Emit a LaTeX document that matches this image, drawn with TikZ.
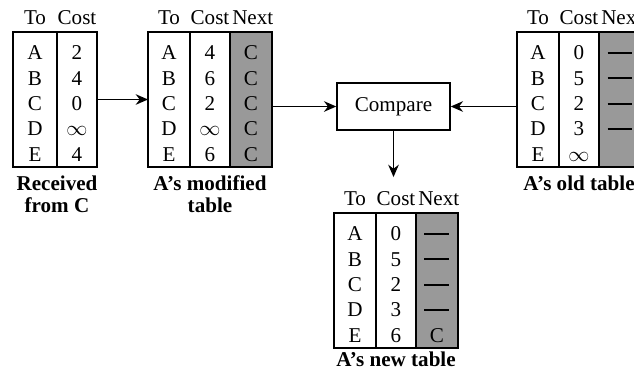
\documentclass[tikz,border=0pt]{standalone}
\usepackage{fontspec}
\setmainfont{Liberation Serif}
\usetikzlibrary{positioning,arrows.meta}
\newcommand{\nohop}{\rule[0.28em]{0.5cm}{1pt}}

\begin{document}
\begin{tikzpicture}[x=0.02cm, y=-0.02cm,
  col/.style={draw, line width=0.8pt, minimum width=0.84cm, minimum height=2.7cm,
              align=center, inner sep=0pt, outer sep=0pt,
              text height=70.5pt, text depth=0pt,
              font=\fontsize{12}{14.5}\selectfont},
  nxt/.style={col, fill=black!40},
  hdr/.style={font=\fontsize{12}{14}\selectfont, inner sep=1pt},
  tabcap/.style={font=\fontsize{12}{12.5}\selectfont\bfseries, align=center, inner sep=1pt},
  cmpbox/.style={draw, line width=0.8pt, minimum width=2.26cm, minimum height=0.94cm,
                 font=\fontsize{12}{14}\selectfont},
  arr/.style={-{Stealth[length=7pt,width=6pt]}, line width=1pt}]
  \useasboundingbox (0,0) rectangle (634,372);
  % received from C
  \node[col, minimum width=0.88cm] (rcvTo) at (35,99.5) {A\\B\\C\\D\\E};
  \node[col, minimum width=0.8cm, right=0pt of rcvTo] (rcvCost) {2\\4\\0\\$\infty$\\4};
  \node[hdr, above=3pt of rcvTo] (rcvToH) {To};
  \node[hdr, above=3pt of rcvCost] (rcvCostH) {Cost};
  \node[tabcap, below=4pt of rcvTo.south east] (rcvCap) {Received\\from C};
  % A's modified table
  \node[col] (modTo) at (169,99.5) {A\\B\\C\\D\\E};
  \node[col, minimum width=0.8cm, right=0pt of modTo] (modCost) {4\\6\\2\\$\infty$\\6};
  \node[nxt, right=0pt of modCost] (modNext) {C\\C\\C\\C\\C};
  \node[hdr, above=3pt of modTo] (modToH) {To};
  \node[hdr, above=3pt of modCost] (modCostH) {Cost};
  \node[hdr, above=3pt of modNext, xshift=1pt] (modNextH) {Next};
  \node[tabcap, below=4pt of modCost] (modCap) {A's modified\\table};
  % compare
  \node[cmpbox] (cmp) at (393.5,106.5) {Compare};
  % A's old table
  \node[col] (oldTo) at (538,99.5) {A\\B\\C\\D\\E};
  \node[col, minimum width=0.8cm, right=0pt of oldTo] (oldCost) {0\\5\\2\\3\\$\infty$};
  \node[nxt, right=0pt of oldCost] (oldNext) {\nohop\\\nohop\\\nohop\\\nohop\\\strut};
  \node[hdr, above=3pt of oldTo] (oldToH) {To};
  \node[hdr, above=3pt of oldCost] (oldCostH) {Cost};
  \node[hdr, above=3pt of oldNext, xshift=1pt] (oldNextH) {Next};
  \node[tabcap, below=4pt of oldCost] (oldCap) {A's old table};
  % A's new table
  \node[col] (newTo) at (355,280.5) {A\\B\\C\\D\\E};
  \node[col, minimum width=0.8cm, right=0pt of newTo] (newCost) {0\\5\\2\\3\\6};
  \node[nxt, right=0pt of newCost] (newNext) {\nohop\\\nohop\\\nohop\\\nohop\\C};
  \node[hdr, above=3pt of newTo] (newToH) {To};
  \node[hdr, above=3pt of newCost] (newCostH) {Cost};
  \node[hdr, above=3pt of newNext, xshift=1pt] (newNextH) {Next};
  \node[tabcap, below=1pt of newCost] (newCap) {A's new table};
  \draw[arr] (rcvCost) -- (modTo);
  \draw[arr] (modNext.east |- cmp.west) -- (cmp.west);
  \draw[arr] (oldTo.west |- cmp.east) -- (cmp.east);
  \draw[arr, shorten >=7pt] (cmp.south) -- (cmp.south |- newCostH.north);
\end{tikzpicture}
\end{document}
